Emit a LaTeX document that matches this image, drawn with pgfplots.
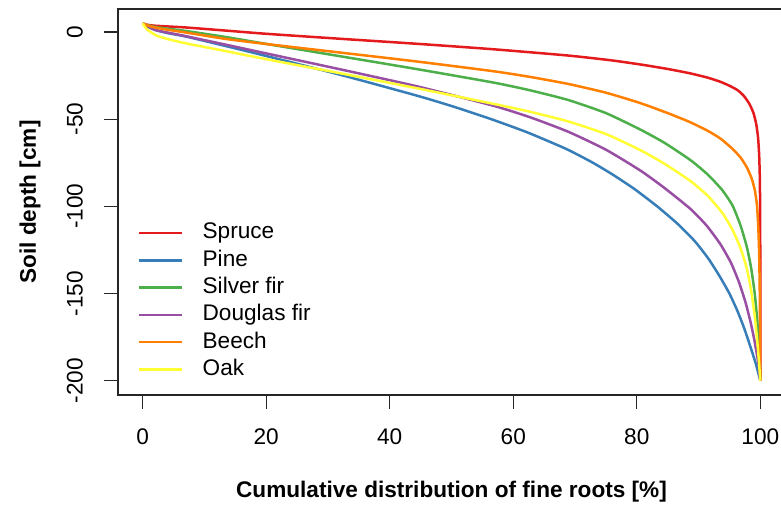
\documentclass[border=0pt]{standalone}
\usepackage{fontspec}
\setmainfont{Liberation Sans}
\usepackage{pgfplots}
\pgfplotsset{compat=1.18}
\definecolor{cRed}{HTML}{E41A1C}
\definecolor{cBlue}{HTML}{377EB8}
\definecolor{cGreen}{HTML}{4DAF4A}
\definecolor{cPurple}{HTML}{984EA3}
\definecolor{cOrange}{HTML}{FF7F00}
\definecolor{cYellow}{HTML}{FFFF33}
\newcommand{\fs}{\fontsize{22.6bp}{27bp}\selectfont}
\begin{document}
\begin{tikzpicture}
\begin{axis}[
  scale only axis, width=667bp, height=386bp,
  xmin=-4, xmax=104, ymin=-208.2, ymax=13.2,
  axis line style={line width=1.1bp, black!85},
  xtick={0,20,40,60,80,100}, xticklabels={0,20,40,60,80,100},
  ytick={-200,-150,-100,-50,0}, yticklabels={-200,-150,-100,-50,0},
  tick pos=left, tick align=outside, major tick length=14bp,
  tick style={line width=1.1bp, black!85},
  ticklabel style={font=\fs},
  xticklabel style={anchor=north, inner sep=0pt, yshift=-20bp},
  yticklabel style={xshift=-21bp, rotate=90, anchor=south, inner sep=0pt},
  xlabel={Cumulative distribution of fine roots [\%]},
  ylabel={Soil depth [cm]},
  label style={font=\fs\bfseries},
  xlabel style={at={(axis description cs:0.5,-0.2513)}, anchor=center},
  ylabel style={at={(axis description cs:-0.1319,0.5)}, anchor=center},
  every axis plot/.append style={line width=2.5bp, smooth, tension=0.35, line join=round},
  legend cell align=left,
  legend image code/.code={\draw[#1] (0bp,0bp) -- (43.3bp,0bp); \path (62.5bp,0bp);},
  legend style={draw=none, fill=none, inner sep=0pt, outer sep=0pt,
    at={(axis description cs:0.0295,0.4482)}, anchor=north west,
    row sep=5.3bp, font=\fs,
    nodes={inner sep=0pt, text height=17bp, text depth=5bp}},
]
\addplot[cRed] coordinates {
(0,5) (0.5,4.3) (2,3.6) (7,2.6) (13.5,0.8) (20.3,-1.1) (32.5,-4.0) (44.6,-6.8)
(56.8,-9.9) (68.9,-13.5) (76,-16.3) (81.1,-18.9) (85,-21.2) (88.5,-23.6)
(91.5,-26.2) (93.5,-28.5) (95,-30.8) (96.3,-33.3) (97.3,-36.5) (98.2,-41)
(98.9,-46.5) (99.35,-53) (99.65,-61) (99.82,-71) (99.92,-83) (99.97,-100)
(99.99,-120) (100,-140) (100,-200)};
\addlegendentry{Spruce}
\addplot[cBlue] coordinates {
(0,5) (0.5,3.6) (2,1.2) (4,-0.6) (7,-2.6) (13.5,-8.1) (20.3,-14.0) (32.5,-25)
(44.6,-36.7) (50.5,-43) (56.6,-50.2) (62.3,-57.6) (68.6,-67.1) (72.9,-75)
(76.2,-82) (79.6,-90) (83.3,-100) (86.6,-110) (89.4,-120) (91.6,-130)
(93.4,-140) (95,-150) (96.3,-160) (97.4,-170) (98.35,-180) (99.25,-190) (100,-200)};
\addlegendentry{Pine}
\addplot[cGreen] coordinates {
(0,5) (0.5,4.2) (2,2.9) (4,1.9) (7,0.6) (13.5,-2.9) (20.3,-7.0) (32.5,-14.2)
(44.6,-21.4) (56.8,-29) (62.8,-33.5) (68.9,-39) (75,-46.5) (80.6,-56)
(84.5,-63.6) (88.7,-73.5) (91.5,-81.8) (93.8,-90.5) (95.5,-99.5) (96.8,-111)
(97.8,-123) (98.5,-135) (99.1,-150) (99.5,-165) (99.75,-178) (99.92,-190) (100,-200)};
\addlegendentry{Silver fir}
\addplot[cPurple] coordinates {
(0,5) (0.5,3.8) (2,1.2) (4,-0.3) (7,-2.4) (13.5,-7.3) (20.3,-12.5) (32.5,-21.8)
(44.6,-31.3) (56.8,-42.3) (62.8,-49) (68.9,-57.2) (75,-67.5) (80.6,-79.5)
(84.5,-89.5) (88.7,-101.5) (91.3,-111) (93.5,-121.5) (95.2,-132) (96.5,-143)
(97.6,-155) (98.4,-166) (99,-176) (99.5,-186) (99.8,-193) (100,-200)};
\addlegendentry{Douglas fir}
\addplot[cOrange] coordinates {
(0,5) (0.5,4.1) (2,2.6) (4,1.3) (7,-0.3) (13.5,-4) (20.3,-7) (32.5,-12)
(44.6,-17) (56.8,-22.5) (62.8,-25.8) (68.9,-29.8) (75,-34.8) (80.6,-40.8)
(85,-46.5) (88.5,-51.5) (91.4,-56.5) (93.5,-61) (95.5,-67) (96.8,-72)
(97.8,-77.5) (98.6,-84) (99.1,-90.5) (99.45,-99) (99.65,-110) (99.8,-125)
(99.9,-145) (99.96,-170) (100,-200)};
\addlegendentry{Beech}
\addplot[cYellow] coordinates {
(0,5) (0.3,3.2) (0.8,1.2) (2.2,-2) (4,-4) (7,-6.5) (13.5,-11) (20.3,-15.8)
(32.5,-24) (44.6,-32.4) (56.8,-41.2) (62.8,-45.8) (68.9,-51.3) (75,-58.5)
(80.6,-67.8) (84.5,-75.6) (88.7,-85.5) (91.5,-94) (93.9,-104) (95.5,-113.5)
(96.8,-124) (97.8,-135.5) (98.5,-148) (99.1,-163) (99.5,-177) (99.8,-190) (100,-200)};
\addlegendentry{Oak}
\end{axis}
\pgfresetboundingbox
\path[use as bounding box] ([xshift=-118bp,yshift=-112bp]current axis.south west) rectangle ([xshift=663bp,yshift=9bp]current axis.north west);
\end{tikzpicture}
\end{document}
